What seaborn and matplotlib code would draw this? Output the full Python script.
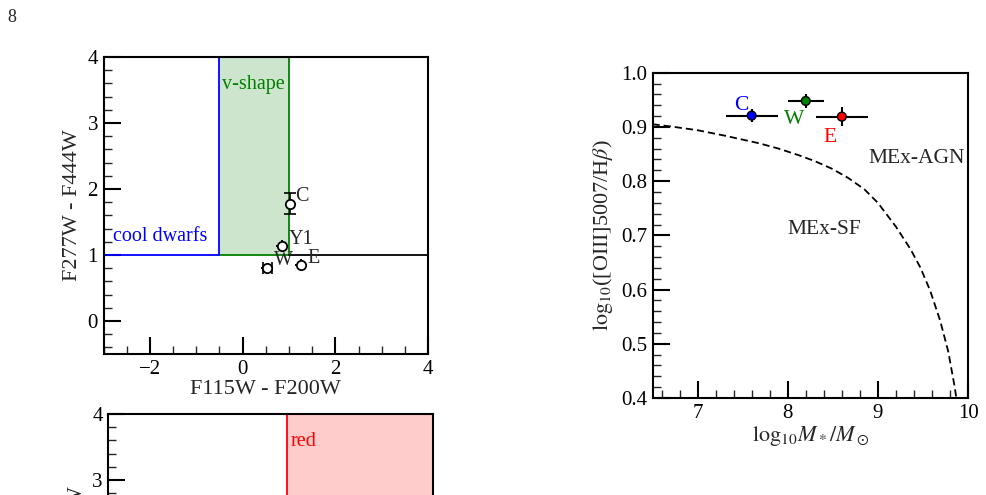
import matplotlib
matplotlib.use('Agg')
import numpy as np
import pandas as pd
import matplotlib.pyplot as plt
from matplotlib.ticker import MultipleLocator, FormatStrFormatter
import seaborn as sns

# colour-colour diagram: F115W-F200W vs F277W-F444W
cc_names = ['C', 'Y1', 'W', 'E']
cc_x = [1.03, 0.86, 0.53, 1.25]
cc_y = [1.78, 1.13, 0.81, 0.85]
cc_xerr = [0.0, 0.0, 0.10, 0.0]
cc_yerr = [0.16, 0.0, 0.0, 0.0]
cc_label_x = [1.14, 1.00, 0.67, 1.39]
cc_label_y = [1.88, 1.24, 0.92, 0.95]

# selection regions
dwarf_x = [-3.0, -0.5, -0.5]
dwarf_y = [1.0, 1.0, 4.0]
vshape_x = [-0.5, 1.0]
vshape_y = [1.0, 4.0]
other_x = [1.0, 4.0]
red_x = [0.85, 4.0]
red_y = [1.0, 4.0]

# MEx diagram
mex_names = ['C', 'W', 'E']
mex_colors = ['blue', 'green', 'red']
mex_mass = [7.60, 8.20, 8.60]
mex_o3hb = [0.921, 0.948, 0.919]
mex_mass_err = [0.29, 0.20, 0.29]
mex_o3hb_err = [0.012, 0.013, 0.017]
mex_label_x = [7.48, 8.07, 8.47]
mex_label_y = [0.940, 0.913, 0.881]

# MEx demarcation
curve_mass = [6.50, 6.70, 7.00, 7.30, 7.68, 7.90, 8.12, 8.30, 8.49, 8.67, 8.85, 9.00,
              9.20, 9.36, 9.47, 9.58, 9.69, 9.78, 9.85, 9.87]
curve_o3hb = [0.905, 0.901, 0.894, 0.884, 0.870, 0.860, 0.848, 0.837, 0.823, 0.806,
              0.785, 0.760, 0.716, 0.675, 0.641, 0.598, 0.543, 0.486, 0.422, 0.400]

sns.set_theme(style='ticks')
plt.rcParams['font.family'] = ['Liberation Serif', 'DejaVu Serif']
plt.rcParams['mathtext.fontset'] = 'stix'
plt.rcParams['axes.linewidth'] = 1.5

fig = plt.figure(figsize=(9.87, 4.95), dpi=100)
fig.text(0.007, 0.965, '8', fontsize=13, va='center', ha='left')

def style_axis(ax, xmaj, xmin, ymaj, ymin):
    ax.xaxis.set_major_locator(MultipleLocator(xmaj))
    ax.xaxis.set_minor_locator(MultipleLocator(xmin))
    ax.yaxis.set_major_locator(MultipleLocator(ymaj))
    ax.yaxis.set_minor_locator(MultipleLocator(ymin))
    ax.tick_params(which='major', direction='in', length=12, width=1.5,
                   top=False, right=False, labelsize=15, pad=4, colors='black')
    ax.tick_params(which='minor', direction='in', length=6, width=1.0,
                   top=False, right=False)
    for s in ax.spines.values():
        s.set_color('black')
        s.set_linewidth(1.5)

### colour-colour panel ###
ax1 = fig.add_axes([0.1049, 0.2848, 0.3288, 0.600])
ax1.fill_between(vshape_x, vshape_y[0], vshape_y[1], color='green', alpha=0.2, lw=0)
ax1.plot([vshape_x[0], vshape_x[1], vshape_x[1]], [vshape_y[0], vshape_y[0], vshape_y[1]],
         color='green', lw=1.3)
ax1.plot(other_x, [1.0, 1.0], color='black', lw=1.3)
ax1.plot(dwarf_x, dwarf_y, color='blue', lw=1.3)
ax1.errorbar(cc_x, cc_y, xerr=cc_xerr, yerr=cc_yerr, fmt='none', ecolor='black',
             elinewidth=1.2, capsize=4, capthick=1.2, zorder=4)
sns.scatterplot(x=cc_x, y=cc_y, ax=ax1, s=45, color='white', edgecolor='black',
                linewidth=1.3, zorder=5, legend=False)
for name, tx, ty in zip(cc_names, cc_label_x, cc_label_y):
    ax1.text(tx, ty, name, fontsize=14.5, ha='left', va='center')
ax1.text(-2.79, 1.28, 'cool dwarfs', color='blue', fontsize=14.5, ha='left', va='center')
ax1.text(-0.44, 3.58, 'v-shape', color='green', fontsize=14.5, ha='left', va='center')
ax1.set_xlim(-3, 4)
ax1.set_ylim(-0.5, 4)
style_axis(ax1, 2, 0.5, 1, 0.2)
ax1.set_xlabel('F115W - F200W', fontsize=16, labelpad=1)
ax1.set_ylabel('F277W - F444W', fontsize=16, labelpad=4)

### lower colour panel (cut by the page) ###
ax2 = fig.add_axes([0.1097, -0.4364, 0.3287, 0.600])
ax2.fill_between(red_x, red_y[0], red_y[1], color='red', alpha=0.2, lw=0)
ax2.plot([red_x[0], red_x[0]], red_y, color='red', lw=1.3)
ax2.text(0.94, 3.58, 'red', color='red', fontsize=14.5, ha='left', va='center')
ax2.set_xlim(-3, 4)
ax2.set_ylim(-0.5, 4)
style_axis(ax2, 2, 0.5, 1, 0.2)
ax2.tick_params(labelbottom=False)
ax2.set_yticks([3, 4])
ax2.set_ylabel('F277W - F444W', fontsize=16, labelpad=4)

### MEx panel ###
ax3 = fig.add_axes([0.6611, 0.1960, 0.3197, 0.657])
sns.lineplot(x=curve_mass, y=curve_o3hb, ax=ax3, color='black', lw=1.3,
             sort=False, estimator=None)
ax3.lines[-1].set_dashes([4, 2.2])
ax3.errorbar(mex_mass, mex_o3hb, xerr=mex_mass_err, yerr=mex_o3hb_err, fmt='none',
             ecolor='black', elinewidth=1.5, capsize=0, zorder=4)
sns.scatterplot(x=mex_mass, y=mex_o3hb, hue=mex_names, palette=mex_colors, ax=ax3,
                s=40, edgecolor='black', linewidth=1.0, zorder=5, legend=False)
for name, c, tx, ty in zip(mex_names, mex_colors, mex_label_x, mex_label_y):
    ax3.text(tx, ty, name, color=c, fontsize=15.5, ha='center', va='center')
ax3.text(9.43, 0.842, 'MEx-AGN', fontsize=15.5, ha='center', va='center')
ax3.text(8.41, 0.710, 'MEx-SF', fontsize=15.5, ha='center', va='center')
ax3.set_xlim(6.5, 10)
ax3.set_ylim(0.4, 1.0)
style_axis(ax3, 1, 0.2, 0.1, 0.02)
ax3.yaxis.set_major_formatter(FormatStrFormatter('%.1f'))
ax3.set_xlabel(r'$\mathrm{log}_{10}M_*/M_\odot$', fontsize=16, labelpad=1)
ax3.set_ylabel(r'$\mathrm{log}_{10}$([OIII]5007/H$\beta$)', fontsize=16, labelpad=4)

plt.savefig('out.png', dpi=100)
